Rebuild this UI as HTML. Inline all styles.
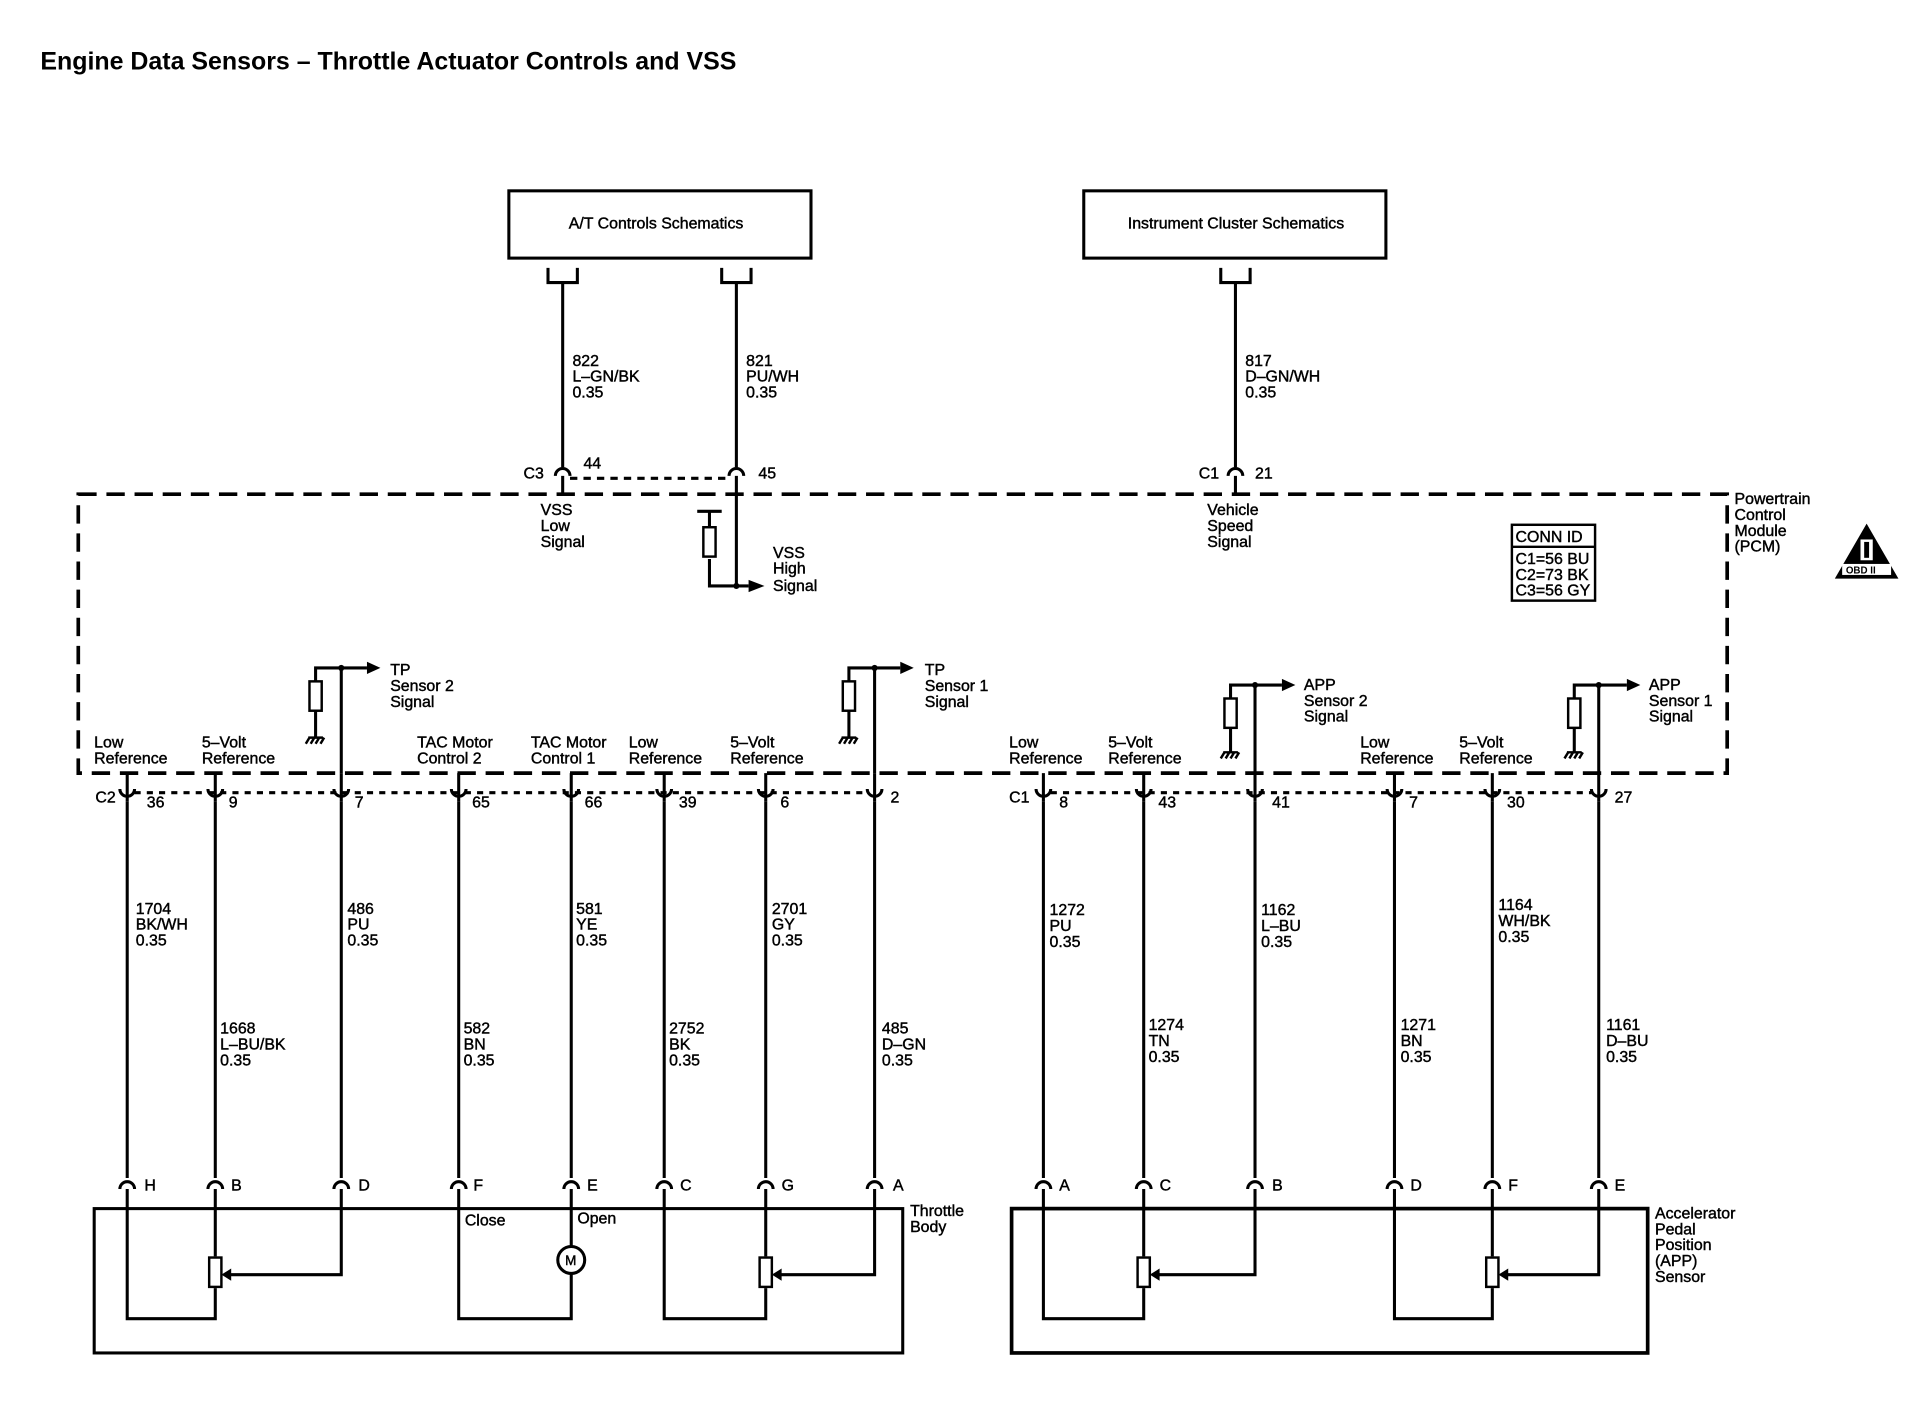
<!DOCTYPE html>
<html><head><meta charset="utf-8"><style>
html,body{margin:0;padding:0;background:#fff;}
svg{display:block;}
text{font-family:"Liberation Sans",sans-serif;font-size:13px;fill:#000;stroke:#000;stroke-width:0.35px;}
.t{letter-spacing:0px;}
</style></head><body>
<svg width="1918" height="1408" viewBox="0 0 1568 1151" preserveAspectRatio="none" xmlns="http://www.w3.org/2000/svg">
<defs>
<g id="res"><rect x="-5" y="0" width="10" height="24" fill="#fff" stroke="#000" stroke-width="2"/></g>
<g id="gnd"><path d="M-6,0 H6 M-5,0 L-8,5 M-1,0 L-4,5 M3,0 L0,5 M7,0 L4,5" stroke="#000" stroke-width="2" fill="none"/></g>
</defs>
<text x="33" y="57" style="font-size:20.4px;font-weight:bold;stroke-width:0">Engine Data Sensors – Throttle Actuator Controls and VSS</text>

<g fill="none" stroke="#000" stroke-width="2.5">
<rect x="416" y="156" width="247" height="55"/>
<rect x="886" y="156" width="247" height="55"/>
<path d="M448,219 V231 H472 V219 M590,219 V231 H614 V219 M998,219 V231 H1022 V219"/>
<path d="M460,231 V382 M602,231 V382 M1010,231 V382"/>
<path d="M454,389 a6,6 0 0 1 12,0 M596,389 a6,6 0 0 1 12,0 M1004,389 a6,6 0 0 1 12,0"/>
<path d="M460,389 V404 M602,389 V479 M1010,389 V404"/>
<rect x="64" y="404" width="1348" height="228" stroke-width="3" stroke-dasharray="15,8"/>
<path d="M570,418 H590 M580,418 V430 M580,457 V479 H612"/>
</g>
<path d="M466,391 H596" stroke="#000" stroke-width="2.5" stroke-dasharray="6,5"/>
<use href="#res" x="580" y="431"/>
<polygon points="612,474 625,479 612,484" fill="#000"/>
<circle cx="602" cy="479" r="2.5"/>

<text class="t" x="465" y="187">A/T Controls Schematics</text>
<text class="t" x="922" y="187">Instrument Cluster Schematics</text>
<text class="t" x="468" y="299">822</text><text class="t" x="468" y="312">L–GN/BK</text><text class="t" x="468" y="325">0.35</text>
<text class="t" x="610" y="299">821</text><text class="t" x="610" y="312">PU/WH</text><text class="t" x="610" y="325">0.35</text>
<text class="t" x="1018" y="299">817</text><text class="t" x="1018" y="312">D–GN/WH</text><text class="t" x="1018" y="325">0.35</text>
<text class="t" x="428" y="391">C3</text><text class="t" x="477" y="383">44</text><text class="t" x="620" y="391">45</text>
<text class="t" x="980" y="391">C1</text><text class="t" x="1026" y="391">21</text>
<text class="t" x="442" y="421">VSS</text><text class="t" x="442" y="434">Low</text><text class="t" x="442" y="447">Signal</text>
<text class="t" x="632" y="456">VSS</text><text class="t" x="632" y="469">High</text><text class="t" x="632" y="483">Signal</text>
<text class="t" x="987" y="421">Vehicle</text><text class="t" x="987" y="434">Speed</text><text class="t" x="987" y="447">Signal</text>
<text class="t" x="1418" y="412">Powertrain</text><text class="t" x="1418" y="425">Control</text><text class="t" x="1418" y="438">Module</text><text class="t" x="1418" y="451">(PCM)</text>
<rect x="1236" y="429" width="68" height="62" fill="none" stroke="#000" stroke-width="2"/>
<line x1="1236" y1="447" x2="1304" y2="447" stroke="#000" stroke-width="2"/>
<text class="t" x="1239" y="443">CONN ID</text>
<text class="t" x="1239" y="461">C1=56 BU</text><text class="t" x="1239" y="474">C2=73 BK</text><text class="t" x="1239" y="487">C3=56 GY</text>
<polygon points="1526,428 1552,473 1500,473" fill="#000"/>
<rect x="1506" y="461" width="40" height="9" fill="#fff"/>
<text x="1509" y="469" style="font-size:8px;font-weight:bold;stroke-width:0">OBD II</text>
<rect x="1521" y="441" width="10" height="17" fill="#fff"/><rect x="1524" y="443" width="4" height="13" fill="#000"/>

<g fill="none" stroke="#000" stroke-width="2.5">
<path d="M258,603 V546 H300 M279,546 V632"/>
<path d="M694,603 V546 H736 M715,546 V632"/>
<path d="M1006,615 V560 H1048 M1026,560 V632"/>
<path d="M1287,615 V560 H1330 M1307,560 V632"/>
</g>
<use href="#res" x="258" y="557"/><use href="#res" x="694" y="557"/><use href="#res" x="1006" y="571"/><use href="#res" x="1287" y="571"/>
<use href="#gnd" x="258" y="603"/><use href="#gnd" x="694" y="603"/><use href="#gnd" x="1006" y="615"/><use href="#gnd" x="1287" y="615"/>
<polygon points="300,541 311,546 300,551"/><polygon points="736,541 747,546 736,551"/>
<polygon points="1048,555 1059,560 1048,565"/><polygon points="1330,555 1341,560 1330,565"/>
<circle cx="279" cy="546" r="2.5"/><circle cx="715" cy="546" r="2.5"/><circle cx="1026" cy="560" r="2.5"/><circle cx="1307" cy="560" r="2.5"/>
<text class="t" x="319" y="552">TP</text><text class="t" x="319" y="565">Sensor 2</text><text class="t" x="319" y="578">Signal</text>
<text class="t" x="756" y="552">TP</text><text class="t" x="756" y="565">Sensor 1</text><text class="t" x="756" y="578">Signal</text>
<text class="t" x="1066" y="564">APP</text><text class="t" x="1066" y="577">Sensor 2</text><text class="t" x="1066" y="590">Signal</text>
<text class="t" x="1348" y="564">APP</text><text class="t" x="1348" y="577">Sensor 1</text><text class="t" x="1348" y="590">Signal</text>

<text class="t" x="77" y="611">Low</text><text class="t" x="77" y="624">Reference</text>
<text class="t" x="165" y="611">5–Volt</text><text class="t" x="165" y="624">Reference</text>
<text class="t" x="341" y="611">TAC Motor</text><text class="t" x="341" y="624">Control 2</text>
<text class="t" x="434" y="611">TAC Motor</text><text class="t" x="434" y="624">Control 1</text>
<text class="t" x="514" y="611">Low</text><text class="t" x="514" y="624">Reference</text>
<text class="t" x="597" y="611">5–Volt</text><text class="t" x="597" y="624">Reference</text>
<text class="t" x="825" y="611">Low</text><text class="t" x="825" y="624">Reference</text>
<text class="t" x="906" y="611">5–Volt</text><text class="t" x="906" y="624">Reference</text>
<text class="t" x="1112" y="611">Low</text><text class="t" x="1112" y="624">Reference</text>
<text class="t" x="1193" y="611">5–Volt</text><text class="t" x="1193" y="624">Reference</text>

<g fill="none" stroke="#000" stroke-width="2.5">
<path d="M104,632 V655 M176,632 V655 M279,632 V655 M375,632 V655 M467,632 V655 M543,632 V655 M626,632 V655 M715,632 V655"/>
<path d="M853,632 V655 M935,632 V655 M1026,632 V655 M1140,632 V655 M1220,632 V655 M1307,632 V655"/>
<path d="M98,645 a6,6 0 0 0 12,0 M170,645 a6,6 0 0 0 12,0 M273,645 a6,6 0 0 0 12,0 M369,645 a6,6 0 0 0 12,0 M461,645 a6,6 0 0 0 12,0 M537,645 a6,6 0 0 0 12,0 M620,645 a6,6 0 0 0 12,0 M709,645 a6,6 0 0 0 12,0"/>
<path d="M847,645 a6,6 0 0 0 12,0 M929,645 a6,6 0 0 0 12,0 M1020,645 a6,6 0 0 0 12,0 M1134,645 a6,6 0 0 0 12,0 M1214,645 a6,6 0 0 0 12,0 M1301,645 a6,6 0 0 0 12,0"/>
<path d="M104,655 V963 M176,655 V963 M279,655 V963 M375,655 V963 M467,655 V963 M543,655 V963 M626,655 V963 M715,655 V963"/>
<path d="M853,655 V963 M935,655 V963 M1026,655 V963 M1140,655 V963 M1220,655 V963 M1307,655 V963"/>
<path d="M98,972 a6,6 0 0 1 12,0 M170,972 a6,6 0 0 1 12,0 M273,972 a6,6 0 0 1 12,0 M369,972 a6,6 0 0 1 12,0 M461,972 a6,6 0 0 1 12,0 M537,972 a6,6 0 0 1 12,0 M620,972 a6,6 0 0 1 12,0 M709,972 a6,6 0 0 1 12,0"/>
<path d="M847,972 a6,6 0 0 1 12,0 M929,972 a6,6 0 0 1 12,0 M1020,972 a6,6 0 0 1 12,0 M1134,972 a6,6 0 0 1 12,0 M1214,972 a6,6 0 0 1 12,0 M1301,972 a6,6 0 0 1 12,0"/>
<rect x="77" y="988" width="661" height="118"/>
<rect x="827" y="988" width="520" height="118" stroke-width="3"/>
<path d="M104,972 V1078 H176 V1053 M176,972 V1027 M279,972 V1042 H186"/>
<path d="M375,972 V1078 H467 V1041 M467,972 V1019"/>
<path d="M543,972 V1078 H626 V1053 M626,972 V1027 M715,972 V1042 H636"/>
<path d="M853,972 V1078 H935 V1053 M935,972 V1027 M1026,972 V1042 H945"/>
<path d="M1140,972 V1078 H1220 V1053 M1220,972 V1027 M1307,972 V1042 H1230"/>
<circle cx="467" cy="1030" r="11" fill="#fff"/>
</g>
<path d="M110,648 H709 M859,648 H1301" stroke="#000" stroke-width="2.5" stroke-dasharray="5,5"/>
<use href="#res" x="176" y="1028"/><use href="#res" x="626" y="1028"/><use href="#res" x="935" y="1028"/><use href="#res" x="1220" y="1028"/>
<polygon points="189,1037 181,1042 189,1047"/><polygon points="639,1037 631,1042 639,1047"/><polygon points="948,1037 940,1042 948,1047"/><polygon points="1233,1037 1225,1042 1233,1047"/>
<text class="t" x="462" y="1034" style="font-size:11px">M</text>

<text class="t" x="78" y="656">C2</text><text class="t" x="120" y="660">36</text><text class="t" x="187" y="660">9</text><text class="t" x="290" y="660">7</text><text class="t" x="386" y="660">65</text><text class="t" x="478" y="660">66</text><text class="t" x="555" y="660">39</text><text class="t" x="638" y="660">6</text><text class="t" x="728" y="656">2</text>
<text class="t" x="825" y="656">C1</text><text class="t" x="866" y="660">8</text><text class="t" x="947" y="660">43</text><text class="t" x="1040" y="660">41</text><text class="t" x="1152" y="660">7</text><text class="t" x="1232" y="660">30</text><text class="t" x="1320" y="656">27</text>

<text class="t" x="111" y="747">1704</text><text class="t" x="111" y="760">BK/WH</text><text class="t" x="111" y="773">0.35</text>
<text class="t" x="180" y="845">1668</text><text class="t" x="180" y="858">L–BU/BK</text><text class="t" x="180" y="871">0.35</text>
<text class="t" x="284" y="747">486</text><text class="t" x="284" y="760">PU</text><text class="t" x="284" y="773">0.35</text>
<text class="t" x="379" y="845">582</text><text class="t" x="379" y="858">BN</text><text class="t" x="379" y="871">0.35</text>
<text class="t" x="471" y="747">581</text><text class="t" x="471" y="760">YE</text><text class="t" x="471" y="773">0.35</text>
<text class="t" x="547" y="845">2752</text><text class="t" x="547" y="858">BK</text><text class="t" x="547" y="871">0.35</text>
<text class="t" x="631" y="747">2701</text><text class="t" x="631" y="760">GY</text><text class="t" x="631" y="773">0.35</text>
<text class="t" x="721" y="845">485</text><text class="t" x="721" y="858">D–GN</text><text class="t" x="721" y="871">0.35</text>
<text class="t" x="858" y="748">1272</text><text class="t" x="858" y="761">PU</text><text class="t" x="858" y="774">0.35</text>
<text class="t" x="939" y="842">1274</text><text class="t" x="939" y="855">TN</text><text class="t" x="939" y="868">0.35</text>
<text class="t" x="1031" y="748">1162</text><text class="t" x="1031" y="761">L–BU</text><text class="t" x="1031" y="774">0.35</text>
<text class="t" x="1145" y="842">1271</text><text class="t" x="1145" y="855">BN</text><text class="t" x="1145" y="868">0.35</text>
<text class="t" x="1225" y="744">1164</text><text class="t" x="1225" y="757">WH/BK</text><text class="t" x="1225" y="770">0.35</text>
<text class="t" x="1313" y="842">1161</text><text class="t" x="1313" y="855">D–BU</text><text class="t" x="1313" y="868">0.35</text>

<text class="t" x="118" y="973">H</text><text class="t" x="189" y="973">B</text><text class="t" x="293" y="973">D</text><text class="t" x="387" y="973">F</text><text class="t" x="480" y="973">E</text><text class="t" x="556" y="973">C</text><text class="t" x="639" y="973">G</text><text class="t" x="730" y="973">A</text>
<text class="t" x="866" y="973">A</text><text class="t" x="948" y="973">C</text><text class="t" x="1040" y="973">B</text><text class="t" x="1153" y="973">D</text><text class="t" x="1233" y="973">F</text><text class="t" x="1320" y="973">E</text>
<text class="t" x="380" y="1002">Close</text><text class="t" x="472" y="1000">Open</text>
<text class="t" x="744" y="994">Throttle</text><text class="t" x="744" y="1007">Body</text>
<text class="t" x="1353" y="996">Accelerator</text><text class="t" x="1353" y="1009">Pedal</text><text class="t" x="1353" y="1022">Position</text><text class="t" x="1353" y="1035">(APP)</text><text class="t" x="1353" y="1048">Sensor</text>
</svg>
</body></html>
